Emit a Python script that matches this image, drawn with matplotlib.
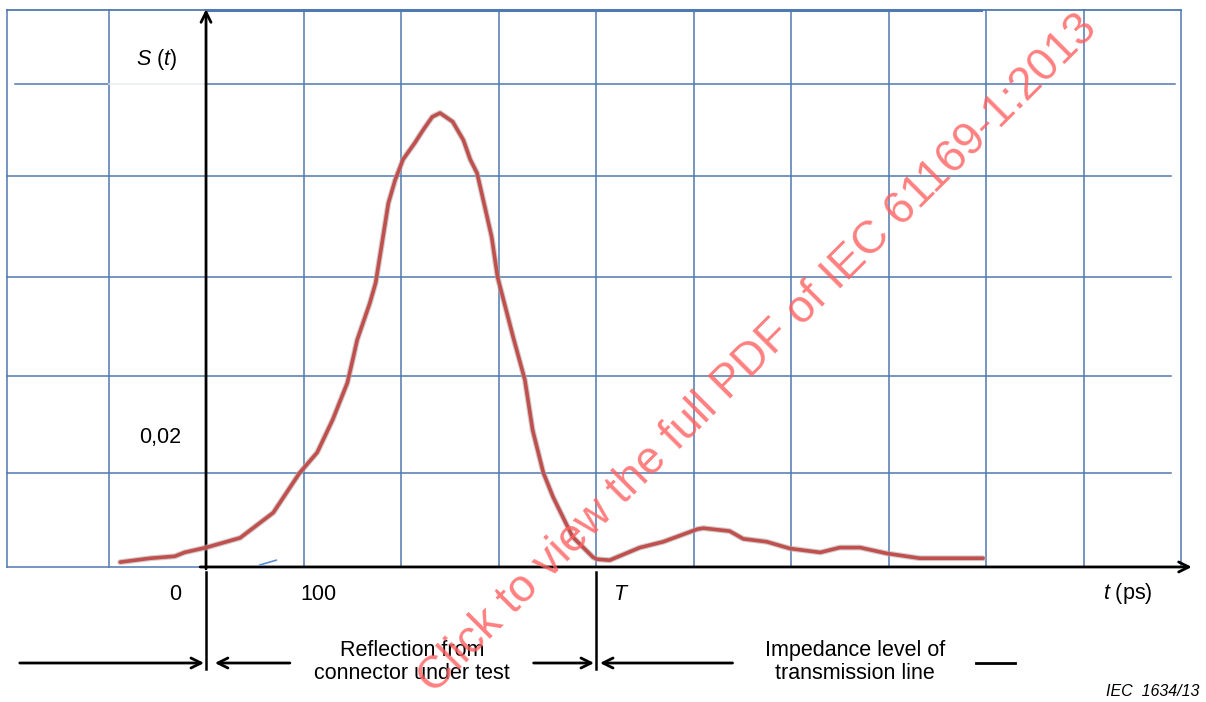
import matplotlib
matplotlib.use("Agg")
import matplotlib.pyplot as plt

plt.rcParams.update({
    "font.family": ["Liberation Sans", "DejaVu Sans"],
    "font.size": 15.5,
    "mathtext.fontset": "custom",
    "mathtext.it": "Liberation Sans:italic",
    "mathtext.rm": "Liberation Sans",
})

W, H = 1206, 702

# curve: time in ps, S(t)
t_ps = [-88, -57, -32, -22, 0, 35, 69, 96, 114, 130, 145, 151, 155, 168, 174,
        181, 187, 194, 202, 214, 223, 232, 240, 253, 264, 271, 278, 286, 293,
        299, 307, 315, 327, 335, 346, 356, 376, 397, 401, 414, 445, 469, 504,
        510, 537, 551, 575, 599, 630, 650, 671, 698, 732, 776, 797]
s_t = [0.0005, 0.0009, 0.0011, 0.0015, 0.0020, 0.0030, 0.0056, 0.0097, 0.0118,
       0.0152, 0.0190, 0.0216, 0.0234, 0.0272, 0.0293, 0.0337, 0.0375, 0.0399,
       0.0420, 0.0437, 0.0451, 0.0464, 0.0468, 0.0459, 0.0440, 0.0420, 0.0406,
       0.0371, 0.0340, 0.0299, 0.0268, 0.0237, 0.0193, 0.0141, 0.0097, 0.0072,
       0.0031, 0.0010, 0.0008, 0.0007, 0.0020, 0.0026, 0.0039, 0.0040, 0.0037,
       0.0029, 0.0026, 0.0019, 0.0015, 0.0020, 0.0020, 0.0014, 0.0009, 0.0009,
       0.0009]

grid_t = [-100, 0, 100, 200, 300, 400, 500, 600, 700, 800, 900, 1000]
grid_s = [0.0097, 0.0197, 0.0299, 0.0403, 0.0498]
t_left, t_right, s_top = -204, 1000, 0.0574
T_ps = 400

grid_col = "#4f79b0"
fig = plt.figure(figsize=(W / 100, H / 100), dpi=100)
ax = fig.add_axes([0, 0, 1, 1])
ax.set_xlim(-211.3, 1025.6)
ax.set_ylim(-0.01392, 0.05845)
ax.axis("off")

# grid
for t in grid_t:
    ax.plot([t, t], [0, s_top], color=grid_col, lw=1.1, zorder=1)
ax.plot([t_left, t_left], [0, s_top], color=grid_col, lw=1.1, zorder=1)
ax.plot([t_left, t_right], [s_top, s_top], color=grid_col, lw=1.3, zorder=1)
ax.plot([0, 795], [s_top, s_top], color=grid_col, lw=2.2, zorder=1)
ax.plot([t_left, 0], [0, 0], color=grid_col, lw=1.1, zorder=1)
for s in grid_s:
    if s == grid_s[-1]:
        ax.plot([-196, -100], [s, s], color=grid_col, lw=1.1, zorder=1)
        ax.plot([-100, 0], [s, s], color="#e8ecf2", lw=1.1, zorder=1)
        ax.plot([0, 994], [s, s], color=grid_col, lw=1.1, zorder=1)
    else:
        ax.plot([t_left, 990], [s, s], color=grid_col, lw=1.1, zorder=1)

# axes with arrow heads
arr = dict(arrowstyle="->", lw=2.0, color="black", mutation_scale=18,
           shrinkA=0, shrinkB=0)
ax.annotate("", xy=(1011, 0), xytext=(-6, 0), arrowprops=arr, zorder=3)
ax.annotate("", xy=(0, 0.0575), xytext=(0, -0.0002), arrowprops=arr, zorder=3)

# curve
ax.plot(t_ps, s_t, color="#b8a8a8", lw=4.2, alpha=0.6, solid_capstyle="round",
        solid_joinstyle="round", zorder=4)
ax.plot(t_ps, s_t, color="#c0504d", lw=2.6, solid_capstyle="round",
        solid_joinstyle="round", zorder=5)
ax.plot([55, 72], [0.0002, 0.0007], color="#5b8fd0", lw=1.2, zorder=4)

# region markers and arrows below the axis
for t in [0, T_ps]:
    ax.plot([t, t], [-0.0005, -0.0105], color="black", lw=1.8, zorder=3)
row = -0.0099
ax.annotate("", xy=(-2, row), xytext=(-191, row), arrowprops=arr)
ax.annotate("", xy=(9, row), xytext=(86, row), arrowprops=arr)
ax.annotate("", xy=(398, row), xytext=(336, row), arrowprops=arr)
ax.annotate("", xy=(404, row), xytext=(540, row), arrowprops=arr)
ax.plot([790, 830], [row, row], color="black", lw=2.0)


def ftxt(x, y, s, **kw):
    fig.text(x / W, 1 - y / H, s, **kw)


ftxt(157, 60, r"$S$ ($t$)", ha="center", va="center")
ftxt(160, 438, "0,02", ha="center", va="center")
ftxt(175, 594, "0", ha="center", va="center")
ftxt(318, 594, "100", ha="center", va="center")
ftxt(620, 594, "T", style="italic", ha="center", va="center")
ftxt(1128, 594, r"$t$ (ps)", ha="center", va="center")
ftxt(412, 662, "Reflection from\nconnector under test", ha="center", va="center",
     linespacing=1.1)
ftxt(855, 662, "Impedance level of\ntransmission line", ha="center", va="center",
     linespacing=1.1)
ftxt(1199, 692, "IEC  1634/13", style="italic", fontsize=11.5, ha="right", va="center")

# watermark
ftxt(758, 354, "Click to view the full PDF of IEC 61169-1:2013", color="#ff5f5f",
     alpha=0.8, fontsize=33, rotation=45, rotation_mode="anchor",
     ha="center", va="center", zorder=10)

fig.savefig("out.png", dpi=100)
